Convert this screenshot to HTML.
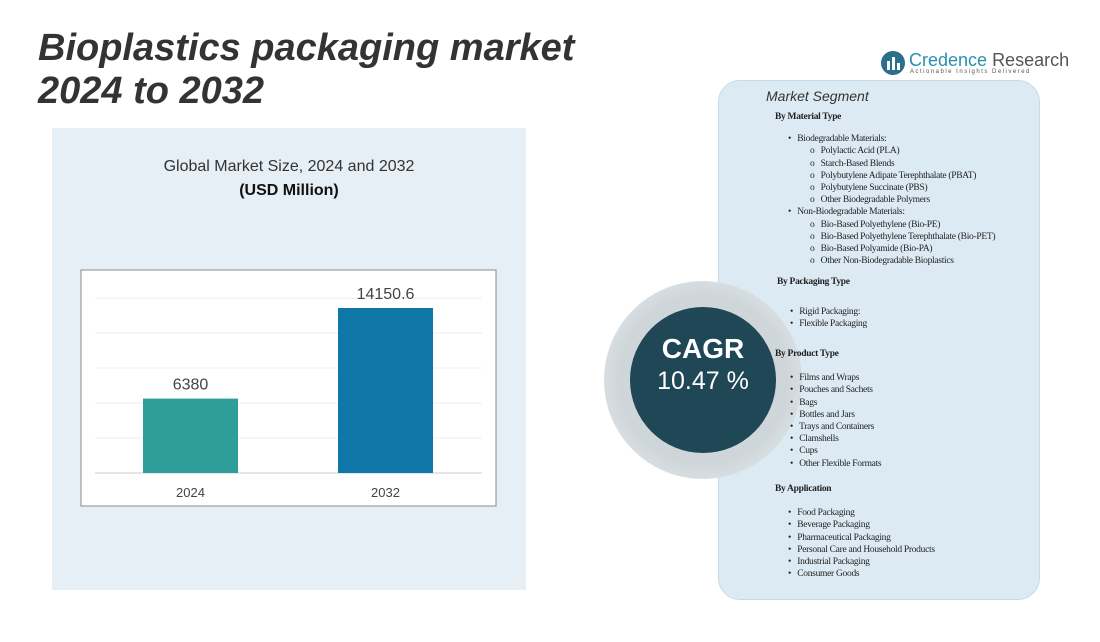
<!DOCTYPE html>
<html><head><meta charset="utf-8"><style>
body{margin:0;width:1100px;height:642px;background:#fff;position:relative;overflow:hidden;font-family:"Liberation Sans",sans-serif}
.abs{position:absolute}
.seg{font-family:"Liberation Serif",serif;font-size:9.5px;color:#222;line-height:12.2px;white-space:nowrap;letter-spacing:-0.3px}
.seg b{font-weight:bold}
</style></head><body>
<div class="abs" style="left:38px;top:27px;font-size:38px;font-weight:bold;font-style:italic;color:#333;line-height:43px">Bioplastics packaging market<br>2024 to 2032</div>
<div class="abs" style="left:880px;top:50px;">
 <svg width="26" height="26" style="position:absolute;left:0;top:0"><circle cx="13" cy="13" r="12" fill="#2b6f8a"/><rect x="7" y="11" width="3" height="9" fill="#fff"/><rect x="12" y="7" width="3" height="13" fill="#fff"/><rect x="17" y="13" width="3" height="7" fill="#fff"/></svg>
 <div class="abs" style="left:29px;top:0;font-size:18px;color:#2b8fb0;white-space:nowrap">Credence <span style="color:#555">Research</span></div>
 <div class="abs" style="left:30px;top:19px;font-size:6px;letter-spacing:1.5px;color:#555;white-space:nowrap">Actionable Insights Delivered</div>
</div>
<div class="abs" style="left:52px;top:128px;width:474px;height:462px;background:#e6eff5"></div>
<div class="abs" style="left:52px;top:158px;width:474px;text-align:center;font-size:16px;color:#333">Global Market Size, 2024 and 2032</div>
<div class="abs" style="left:52px;top:182px;width:474px;text-align:center;font-size:16px;font-weight:bold;color:#111">(USD Million)</div>
<svg class="abs" style="left:0;top:0" width="1100" height="642" id="chart">
<rect x="81" y="270" width="415" height="236" fill="#fff" stroke="#888" stroke-width="1"/>
</svg>
<div class="abs" style="left:718px;top:80px;width:322px;height:520px;border-radius:22px;background:#dcebf3;border:1px solid #c4dbe7;box-sizing:border-box"></div>
<div class="abs" style="left:604px;top:281px;width:198px;height:198px;border-radius:50%;background:radial-gradient(circle,#cfd6da 60%,#eef2f4 100%)"></div>
<div class="abs" style="left:630px;top:307px;width:146px;height:146px;border-radius:50%;background:#1f4756;color:#fff;text-align:center">
 <div style="margin-top:26px;font-size:28px;font-weight:bold">CAGR</div>
 <div style="font-size:25px;margin-top:2px">10.47 %</div>
</div>
<div class="abs" style="left:766px;top:88px;font-size:14px;font-style:italic;color:#333">Market Segment</div>
<div class="abs seg" style="left:775px;top:111px">
<div><b>By Material Type</b></div><div style="height:10px"></div>
<div style="padding-left:13px">•&nbsp;&nbsp; Biodegradable Materials:</div>
<div style="padding-left:35px">o&nbsp;&nbsp; Polylactic Acid (PLA)</div>
<div style="padding-left:35px">o&nbsp;&nbsp; Starch-Based Blends</div>
<div style="padding-left:35px">o&nbsp;&nbsp; Polybutylene Adipate Terephthalate (PBAT)</div>
<div style="padding-left:35px">o&nbsp;&nbsp; Polybutylene Succinate (PBS)</div>
<div style="padding-left:35px">o&nbsp;&nbsp; Other Biodegradable Polymers</div>
<div style="padding-left:13px">•&nbsp;&nbsp; Non-Biodegradable Materials:</div>
<div style="padding-left:35px">o&nbsp;&nbsp; Bio-Based Polyethylene (Bio-PE)</div>
<div style="padding-left:35px">o&nbsp;&nbsp; Bio-Based Polyethylene Terephthalate (Bio-PET)</div>
<div style="padding-left:35px">o&nbsp;&nbsp; Bio-Based Polyamide (Bio-PA)</div>
<div style="padding-left:35px">o&nbsp;&nbsp; Other Non-Biodegradable Bioplastics</div>
</div>
<div class="abs seg" style="left:777px;top:276px">
<div><b>By Packaging Type</b></div><div style="height:18px"></div>
<div style="padding-left:13px">•&nbsp;&nbsp; Rigid Packaging:</div>
<div style="padding-left:13px">•&nbsp;&nbsp; Flexible Packaging</div>
</div>
<div class="abs seg" style="left:775px;top:348px">
<div><b>By Product Type</b></div><div style="height:12px"></div>
<div style="padding-left:15px">•&nbsp;&nbsp; Films and Wraps</div>
<div style="padding-left:15px">•&nbsp;&nbsp; Pouches and Sachets</div>
<div style="padding-left:15px">•&nbsp;&nbsp; Bags</div>
<div style="padding-left:15px">•&nbsp;&nbsp; Bottles and Jars</div>
<div style="padding-left:15px">•&nbsp;&nbsp; Trays and Containers</div>
<div style="padding-left:15px">•&nbsp;&nbsp; Clamshells</div>
<div style="padding-left:15px">•&nbsp;&nbsp; Cups</div>
<div style="padding-left:15px">•&nbsp;&nbsp; Other Flexible Formats</div>
</div>
<div class="abs seg" style="left:775px;top:483px">
<div><b>By Application</b></div><div style="height:12px"></div>
<div style="padding-left:13px">•&nbsp;&nbsp; Food Packaging</div>
<div style="padding-left:13px">•&nbsp;&nbsp; Beverage Packaging</div>
<div style="padding-left:13px">•&nbsp;&nbsp; Pharmaceutical Packaging</div>
<div style="padding-left:13px">•&nbsp;&nbsp; Personal Care and Household Products</div>
<div style="padding-left:13px">•&nbsp;&nbsp; Industrial Packaging</div>
<div style="padding-left:13px">•&nbsp;&nbsp; Consumer Goods</div>
</div>
<script>
const categories=["2024","2032"];
const values=[6380,14150.6];
const valueLabels=["6380","14150.6"];
const gridValues=[3000,6000,9000,12000,15000];
const colors=["#2e9e9b","#0f78a8"];
const svg=document.getElementById('chart');
const NS="http://www.w3.org/2000/svg";
const y0=473,scale=165/14150.6;
function yPos(v){return y0-v*scale;}
function xPos(i){return 143+i*195;}
gridValues.forEach(g=>{const l=document.createElementNS(NS,'line');


l.setAttribute('x1',95);l.setAttribute('x2',482);l.setAttribute('y1',yPos(g));l.setAttribute('y2',yPos(g));l.setAttribute('stroke','#ececec');svg.appendChild(l);});
const ax=document.createElementNS(NS,'line');


ax.setAttribute('x1',95);ax.setAttribute('x2',482);ax.setAttribute('y1',y0);ax.setAttribute('y2',y0);ax.setAttribute('stroke','#ccc');svg.appendChild(ax);
categories.forEach((c,i)=>{
const r=document.createElementNS(NS,'rect');


r.setAttribute('x',xPos(i));r.setAttribute('width',95);r.setAttribute('y',yPos(values[i]));r.setAttribute('height',y0-yPos(values[i]));r.setAttribute('fill',colors[i]);svg.appendChild(r);
const t=document.createElementNS(NS,'text');


t.setAttribute('x',xPos(i)+47.5);t.setAttribute('y',yPos(values[i])-9);t.setAttribute('text-anchor','middle');t.setAttribute('font-size','16');t.setAttribute('fill','#444');t.setAttribute('font-family','Liberation Sans, sans-serif');t.textContent=valueLabels[i];svg.appendChild(t);
const x=document.createElementNS(NS,'text');


x.setAttribute('x',xPos(i)+47.5);x.setAttribute('y',497);x.setAttribute('text-anchor','middle');x.setAttribute('font-size','13');x.setAttribute('fill','#444');x.setAttribute('font-family','Liberation Sans, sans-serif');x.textContent=c;svg.appendChild(x);
});
</script>
</body></html>
